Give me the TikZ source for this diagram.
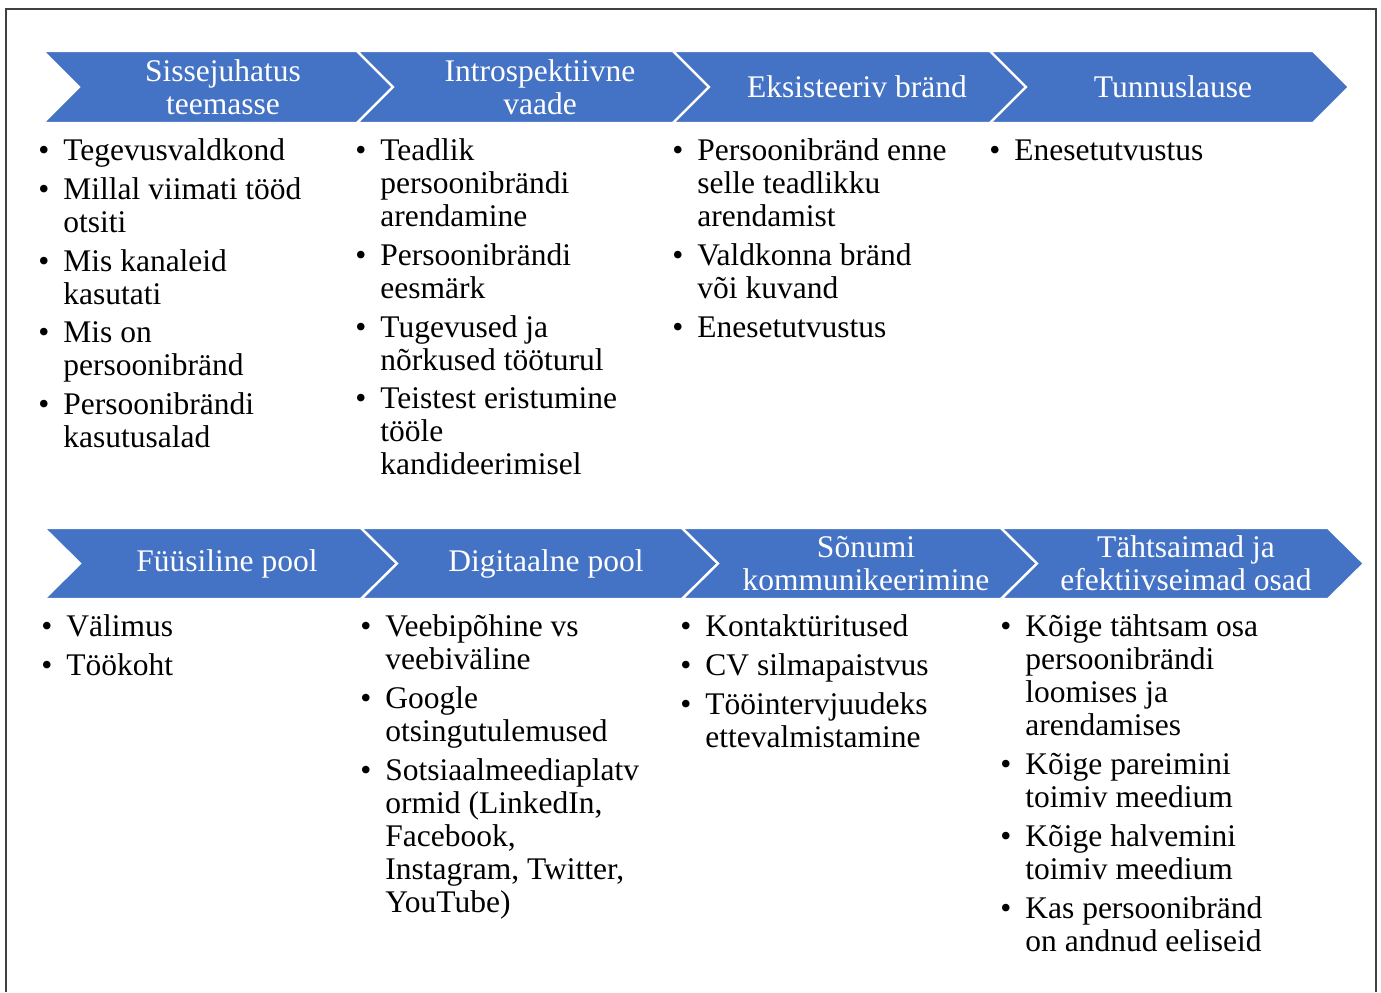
\documentclass[tikz,border=0pt]{standalone}
\usepackage{fontspec}
\setmainfont{Liberation Serif}
\usepackage{xcolor}
\usepackage{tikz}
\definecolor{cBlue}{RGB}{68,114,196}
\definecolor{cFrame}{RGB}{64,64,64}
\newcommand\dfont{\fontsize{15.75pt}{16.5pt}\selectfont}
\newcommand\itm{\rule{0pt}{12pt}\makebox[12.5pt][l]{\textbullet}}
\newcommand\cnt{\hspace*{12.5pt}}
\tikzset{
  chev/.style={fill=cBlue, draw=white, line width=1.2pt, line join=miter},
  hd/.style={text=white, align=center, font=\dfont, inner sep=0pt},
  lst/.style={anchor=north west, align=left, font=\dfont, inner sep=0pt}
}

\begin{document}
\begin{tikzpicture}[x=0.5pt, y=-0.5pt]
  \useasboundingbox (0,0) rectangle (1381,992);
  \draw[cFrame, line width=1pt] (6,992) -- (6,9) -- (1376,9) -- (1376,992);

  \draw[chev] (43,51) -- (357,51) -- (393,87) -- (357,123) -- (43,123) -- (79,87) -- cycle;
  \draw[chev] (357,51) -- (673,51) -- (709,87) -- (673,123) -- (357,123) -- (393,87) -- cycle;
  \draw[chev] (673,51) -- (990,51) -- (1026,87) -- (990,123) -- (673,123) -- (709,87) -- cycle;
  \draw[chev] (990,51) -- (1313,51) -- (1349,87) -- (1313,123) -- (990,123) -- (1026,87) -- cycle;

  \draw[chev] (44,528) -- (361,528) -- (397,563.5) -- (361,599) -- (44,599) -- (80,563.5) -- cycle;
  \draw[chev] (361,528) -- (682,528) -- (718,563.5) -- (682,599) -- (361,599) -- (397,563.5) -- cycle;
  \draw[chev] (682,528) -- (1001,528) -- (1037,563.5) -- (1001,599) -- (682,599) -- (718,563.5) -- cycle;
  \draw[chev] (1001,528) -- (1328,528) -- (1364,563.5) -- (1328,599) -- (1001,599) -- (1037,563.5) -- cycle;

  \node[hd] (t1) at (223,87) {Sissejuhatus\\teemasse};
  \node[hd] (t2) at (540,87) {Introspektiivne\\vaade};
  \node[hd] (t3) at (857,87) {Eksisteeriv bränd};
  \node[hd] (t4) at (1173,87) {Tunnuslause};

  \node[hd] (b1) at (227,563.5) {Füüsiline pool};
  \node[hd] (b2) at (546,563.5) {Digitaalne pool};
  \node[hd] (b3) at (866,563.5) {Sõnumi\\kommunikeerimine};
  \node[hd] (b4) at (1186,563.5) {Tähtsaimad ja\\efektiivseimad osad};

  \node[lst] (t1list) at (38,136.5) {\itm Tegevusvaldkond\\[2.8pt]
    \itm Millal viimati tööd\\ \cnt otsiti\\[2.8pt]
    \itm Mis kanaleid\\ \cnt kasutati\\[2.8pt]
    \itm Mis on\\ \cnt persoonibränd\\[2.8pt]
    \itm Persoonibrändi\\ \cnt kasutusalad};
  \node[lst] (t2list) at (355,136.5) {\itm Teadlik\\ \cnt persoonibrändi\\ \cnt arendamine\\[2.8pt]
    \itm Persoonibrändi\\ \cnt eesmärk\\[2.8pt]
    \itm Tugevused ja\\ \cnt nõrkused tööturul\\[2.8pt]
    \itm Teistest eristumine\\ \cnt tööle\\ \cnt kandideerimisel};
  \node[lst] (t3list) at (672,136.5) {\itm Persoonibränd enne\\ \cnt selle teadlikku\\ \cnt arendamist\\[2.8pt]
    \itm Valdkonna bränd\\ \cnt või kuvand\\[2.8pt]
    \itm Enesetutvustus};
  \node[lst] (t4list) at (989,136.5) {\itm Enesetutvustus};

  \node[lst] (b1list) at (41,612) {\itm Välimus\\[3pt]
    \itm Töökoht};
  \node[lst] (b2list) at (360,612) {\itm Veebipõhine vs\\ \cnt veebiväline\\[3pt]
    \itm Google\\ \cnt otsingutulemused\\[3pt]
    \itm Sotsiaalmeediaplatv\\ \cnt ormid (LinkedIn,\\ \cnt Facebook,\\ \cnt Instagram, Twitter,\\ \cnt YouTube)};
  \node[lst] (b3list) at (680,612) {\itm Kontaktüritused\\[3pt]
    \itm CV silmapaistvus\\[3pt]
    \itm Tööintervjuudeks\\ \cnt ettevalmistamine};
  \node[lst] (b4list) at (1000,612) {\itm Kõige tähtsam osa\\ \cnt persoonibrändi\\ \cnt loomises ja\\ \cnt arendamises\\[3pt]
    \itm Kõige pareimini\\ \cnt toimiv meedium\\[3pt]
    \itm Kõige halvemini\\ \cnt toimiv meedium\\[3pt]
    \itm Kas persoonibränd\\ \cnt on andnud eeliseid};
\end{tikzpicture}
\end{document}
